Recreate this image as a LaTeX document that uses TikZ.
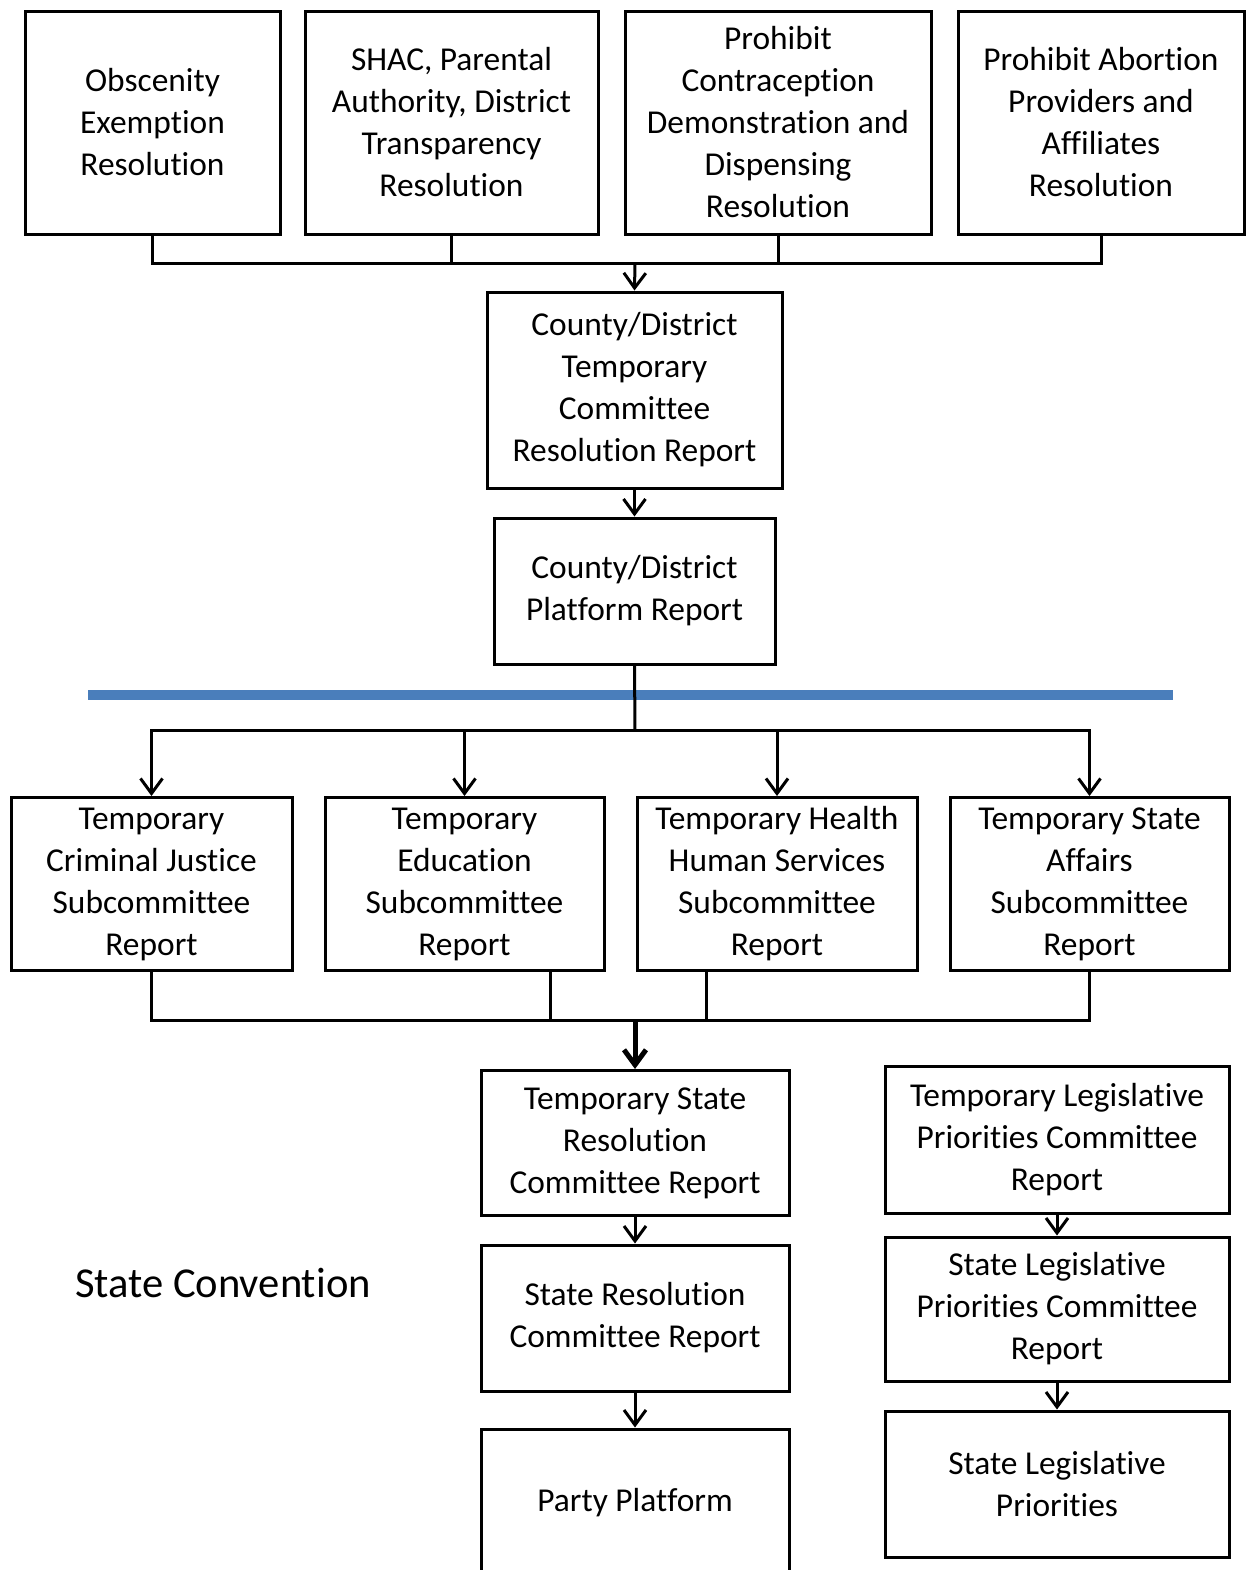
\documentclass[tikz,border=0pt]{standalone}
\usepackage{fontspec}
\setmainfont{Carlito}[Ligatures=NoCommon]
\usetikzlibrary{arrows.meta,calc}

\tikzset{
  box/.style={draw, line width=1.5pt, inner sep=0pt, align=center,
    font=\fontsize{16.7}{21}\selectfont},
  link/.style={line width=1.5pt},
  divider/.style={line width=5pt, color=rulerblue}
}
\definecolor{rulerblue}{RGB}{74,126,187}

\begin{document}
\begin{tikzpicture}[x=0.5pt,y=-0.5pt,>={Straight Barb[length=7.5pt,width=11pt]}]
\useasboundingbox (0,0) rectangle (1247,1570);
\clip (0,0) rectangle (1247,1570);
% resolutions
\node[box,minimum width=127.5pt,minimum height=111.5pt] (obscenity) at (152.5,122.5) {Obscenity\\Exemption\\Resolution};
\node[box,minimum width=146.5pt,minimum height=111.5pt] (shac) at (451.5,122.5) {SHAC, Parental\\Authority, District\\Transparency\\Resolution};
\node[box,minimum width=153pt,minimum height=111.5pt] (contra) at (778,122.5) {Prohibit\\Contraception\\Demonstration and\\Dispensing\\Resolution};
\node[box,minimum width=143pt,minimum height=111.5pt] (abortion) at (1101,122.5) {Prohibit Abortion\\Providers and\\Affiliates\\Resolution};
% county level
\node[box,minimum width=147.5pt,minimum height=98pt] (countyres) at (634.5,390) {County/District\\Temporary\\Committee\\Resolution Report};
\node[box,minimum width=140.5pt,minimum height=73pt] (countyplat) at (634.5,591) {County/District\\Platform Report};
% subcommittees
\node[box,minimum width=140.5pt,minimum height=86.5pt] (crim) at (151.5,884) {Temporary\\Criminal Justice\\Subcommittee\\Report};
\node[box,minimum width=139.5pt,minimum height=86.5pt] (edu) at (464.5,884) {Temporary\\Education\\Subcommittee\\Report};
\node[box,minimum width=140pt,minimum height=86.5pt] (health) at (777,884) {Temporary Health\\Human Services\\Subcommittee\\Report};
\node[box,minimum width=139.5pt,minimum height=86.5pt] (stateaff) at (1089.5,884) {Temporary State\\Affairs\\Subcommittee\\Report};
% state level
\node[box,minimum width=154pt,minimum height=72.5pt] (tempres) at (635,1143) {Temporary State\\Resolution\\Committee Report};
\node[box,minimum width=154pt,minimum height=73pt] (stateres) at (635,1318) {State Resolution\\Committee Report};
\node[box,minimum width=154pt,minimum height=74pt] (platform) at (635,1503) {Party Platform};
\node[box,minimum width=172pt,minimum height=73.5pt] (templeg) at (1057,1140) {Temporary Legislative\\Priorities Committee\\Report};
\node[box,minimum width=172pt,minimum height=72pt] (stateleg) at (1057,1309) {State Legislative\\Priorities Committee\\Report};
\node[box,minimum width=172pt,minimum height=73pt] (legpri) at (1057,1484) {State Legislative\\Priorities};
\node[font=\fontsize{21.3}{25}\selectfont] (convention) at (223,1283) {State Convention};
% connectors
\coordinate (topbus) at (635,263);
\coordinate (midbus) at (635,730);
\coordinate (lowbus) at (635,1020);
\draw[link] (obscenity.south) |- (topbus);
\draw[link] (shac.south) |- (topbus);
\draw[link] (contra.south) |- (topbus);
\draw[link] (abortion.south) |- (topbus);
\draw[link,->] (topbus) -- (countyres.north);
\draw[link,->] (countyres.south) -- (countyplat.north);
\draw[divider] (88,695) -- (1173,695);
\draw[link] (countyplat.south) -- (midbus);
\draw[link,->] (midbus) -| (crim.north);
\draw[link,->] (midbus) -| (edu.north);
\draw[link,->] (midbus) -| (health.north);
\draw[link,->] (midbus) -| (stateaff.north);
\draw[link] (crim.south) |- (lowbus);
\draw[link] ($(edu.south)+(85.5,0)$) |- (lowbus);
\draw[link] ($(health.south)+(-71,0)$) |- (lowbus);
\draw[link] (stateaff.south) |- (lowbus);
\draw[link,line width=2.5pt,->] (lowbus) -- (tempres.north);
\draw[link,->] (tempres.south) -- (stateres.north);
\draw[link,->] (stateres.south) -- (platform.north);
\draw[link,->] (templeg.south) -- (stateleg.north);
\draw[link,->] (stateleg.south) -- (legpri.north);
\end{tikzpicture}
\end{document}
